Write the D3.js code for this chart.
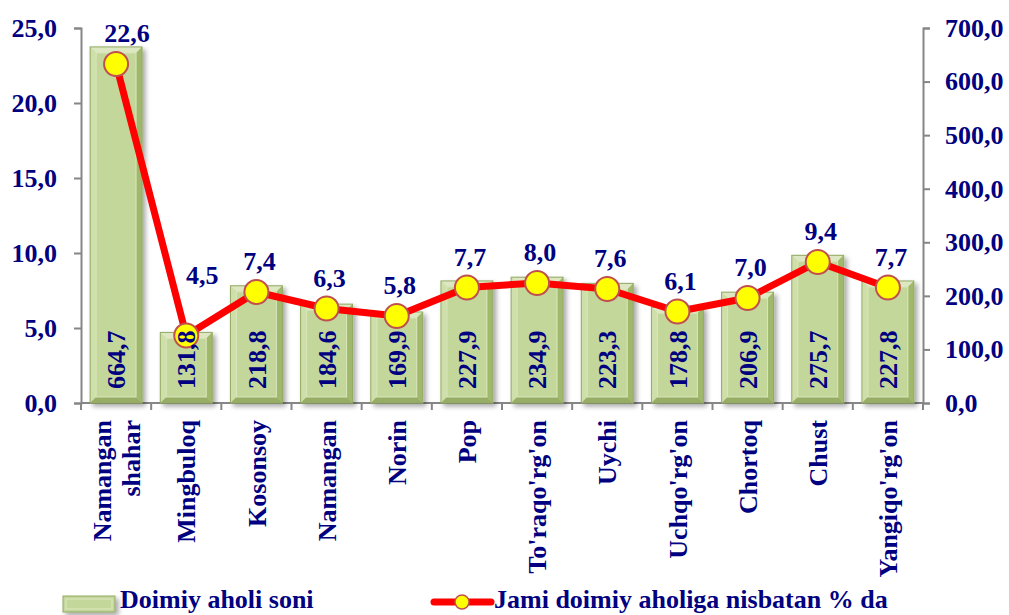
<!DOCTYPE html>
<html>
<head>
<meta charset="utf-8">
<script src="https://cdn.jsdelivr.net/npm/d3@7"></script>
<style>
  html, body { margin: 0; padding: 0; background: #ffffff; }
  svg { display: block; }
  text { font-family: "Liberation Serif", "Times New Roman", serif; font-weight: bold; fill: #000080; }
</style>
</head>
<body>
<svg id="chart" width="1009" height="615"></svg>
<script>
const categories = ["Namangan shahar","Mingbuloq","Kosonsoy","Namangan","Norin","Pop","To'raqo'rg'on","Uychi","Uchqo'rg'on","Chortoq","Chust","Yangiqo'rg'on"];
const population = [664.7,131.8,218.8,184.6,169.9,227.9,234.9,223.3,178.8,206.9,275.7,227.8];
const share = [22.6,4.5,7.4,6.3,5.8,7.7,8.0,7.6,6.1,7.0,9.4,7.7];
const leftTicks = [0,5,10,15,20,25];
const rightTicks = [0,100,200,300,400,500,600,700];
const legendLabels = ["Doimiy aholi soni","Jami doimiy aholiga nisbatan % da"];

const fmt = v => d3.format(".1f")(v).replace(".", ",");

const svg = d3.select("#chart");
const X0 = 81, X1 = 923, Y0 = 403, Y1 = 28;
const FS = 26;

const x = d3.scaleBand().domain(categories).range([X0, X1]).paddingInner(0.26).paddingOuter(0.13);
const cx = c => x(c) + x.bandwidth() / 2;
const yL = d3.scaleLinear().domain([0, 25]).range([Y0, Y1]);
const yR = d3.scaleLinear().domain([0, 700]).range([Y0, Y1]);

const defs = svg.append("defs");
const f = defs.append("filter").attr("id", "shadow").attr("x", "-20%").attr("y", "-20%").attr("width", "150%").attr("height", "150%");
f.append("feGaussianBlur").attr("in", "SourceAlpha").attr("stdDeviation", 2.5);
f.append("feOffset").attr("dx", 3).attr("dy", 3).attr("result", "ob");
f.append("feComponentTransfer").append("feFuncA").attr("type", "linear").attr("slope", 0.35);
const m = f.append("feMerge");
m.append("feMergeNode");
m.append("feMergeNode").attr("in", "SourceGraphic");

// Axes
const axisColor = "#868686";
const gL = svg.append("g").attr("transform", `translate(${X0},0)`)
  .call(d3.axisLeft(yL).tickValues(leftTicks).tickSize(7).tickPadding(17).tickFormat(fmt));
const gR = svg.append("g").attr("transform", `translate(${X1},0)`)
  .call(d3.axisRight(yR).tickValues(rightTicks).tickSize(7).tickPadding(15).tickFormat(fmt));
[gL, gR].forEach(g => {
  g.select(".domain").attr("stroke", axisColor).attr("stroke-width", 2);
  g.selectAll(".tick line").attr("stroke", axisColor).attr("stroke-width", 2);
  g.selectAll(".tick text").style("font-size", FS + "px").attr("fill", "#000080")
    .style("font-family", "'Liberation Serif', 'Times New Roman', serif").style("font-weight", "bold");
});

// Bottom axis line with category boundary ticks
const gB = svg.append("g");
gB.append("line").attr("x1", X0).attr("x2", X1).attr("y1", Y0).attr("y2", Y0)
  .attr("stroke", axisColor).attr("stroke-width", 2);
const bounds = categories.map(c => x(c) - x.step() * x.paddingInner() / 2).concat([X1]);
gB.selectAll("line.bt").data(bounds).join("line").attr("class", "bt")
  .attr("x1", d => d).attr("x2", d => d).attr("y1", Y0).attr("y2", Y0 + 7)
  .attr("stroke", axisColor).attr("stroke-width", 2);

// Bars with bevel
const bev = 6;
const gBars = svg.append("g");
categories.forEach((c, i) => {
  const bx = x(c), bw = x.bandwidth(), by = yR(population[i]), bh = Y0 - by;
  const g = gBars.append("g").attr("filter", "url(#shadow)");
  g.append("rect").attr("x", bx).attr("y", by).attr("width", bw).attr("height", bh).attr("fill", "#c4d79b");
  const x2 = bx + bw, y2 = by + bh;
  const poly = (pts, fill) => g.append("polygon").attr("points", pts.map(p => p.join(",")).join(" ")).attr("fill", fill);
  poly([[bx, by], [x2, by], [x2 - bev, by + bev], [bx + bev, by + bev]], "#dde8c3");
  poly([[bx, by], [bx + bev, by + bev], [bx + bev, y2 - bev], [bx, y2]], "#cfdfaa");
  poly([[x2, by], [x2, y2], [x2 - bev, y2 - bev], [x2 - bev, by + bev]], "#a0b86c");
  poly([[bx, y2], [x2, y2], [x2 - bev, y2 - bev], [bx + bev, y2 - bev]], "#97ad65");
  g.append("rect").attr("x", bx + bev).attr("y", by + bev).attr("width", bw - 2 * bev).attr("height", Math.max(0, bh - 2 * bev))
    .attr("fill", "#c4d79b").attr("stroke", "#d9e6bb").attr("stroke-width", 1);
  g.append("rect").attr("x", bx).attr("y", by).attr("width", bw).attr("height", bh)
    .attr("fill", "none").attr("stroke", "#93a963").attr("stroke-width", 1);
});

// Line
const line = d3.line().x((d, i) => cx(categories[i])).y(d => yL(d));
svg.append("path").datum(share).attr("d", line).attr("fill", "none")
  .attr("stroke", "#ff0000").attr("stroke-width", 7).attr("stroke-linejoin", "round");
svg.append("g").selectAll("circle").data(share).join("circle")
  .attr("cx", (d, i) => cx(categories[i])).attr("cy", d => yL(d)).attr("r", 12)
  .attr("fill", "#ffff00").attr("stroke", "#c0504d").attr("stroke-width", 2);

// Line labels
const labelDx = i => (i === 0 ? 11 : i === 1 ? 16 : 3);
const labelDy = i => (i === 1 ? -52 : -22);
svg.append("g").selectAll("text").data(share).join("text")
  .attr("x", (d, i) => cx(categories[i]) + labelDx(i))
  .attr("y", (d, i) => yL(d) + labelDy(i))
  .attr("text-anchor", "middle").style("font-size", FS + "px")
  .text(d => fmt(d));

// Bar labels (rotated)
svg.append("g").selectAll("text").data(population).join("text")
  .attr("transform", (d, i) => `translate(${cx(categories[i])},${Y0 - 14}) rotate(-90)`)
  .attr("dy", "0.35em").attr("text-anchor", "start").style("font-size", FS + "px")
  .text(d => fmt(d));

// Category labels
const gC = svg.append("g");
categories.forEach((c, i) => {
  const parts = c === "Namangan shahar" ? ["Namangan", "shahar"] : [c];
  parts.forEach((p, j) => {
    const off = parts.length === 1 ? 0 : (j === 0 ? -14 : 15);
    gC.append("text")
      .attr("transform", `translate(${cx(c) + off},${Y0 + 17}) rotate(-90)`)
      .attr("dy", "0.35em").attr("text-anchor", "end").style("font-size", FS + "px")
      .text(p);
  });
});

// Legend
const lg = svg.append("g");
const sw = lg.append("g").attr("filter", "url(#shadow)");
sw.append("rect").attr("x", 63).attr("y", 596).attr("width", 52).attr("height", 16).attr("fill", "#c4d79b")
  .attr("stroke", "#93a963").attr("stroke-width", 1);
sw.append("rect").attr("x", 66).attr("y", 599).attr("width", 46).attr("height", 10).attr("fill", "#c4d79b")
  .attr("stroke", "#dce8c0").attr("stroke-width", 1);
lg.append("text").attr("x", 120).attr("y", 608).style("font-size", FS + "px").text(legendLabels[0]);
lg.append("line").attr("x1", 434).attr("x2", 491).attr("y1", 602).attr("y2", 602)
  .attr("stroke", "#ff0000").attr("stroke-width", 7).attr("stroke-linecap", "round");
lg.append("circle").attr("cx", 462).attr("cy", 602).attr("r", 7)
  .attr("fill", "#ffff00").attr("stroke", "#c0504d").attr("stroke-width", 1.5);
lg.append("text").attr("x", 494).attr("y", 608).style("font-size", FS + "px").text(legendLabels[1]);
</script>
</body>
</html>
